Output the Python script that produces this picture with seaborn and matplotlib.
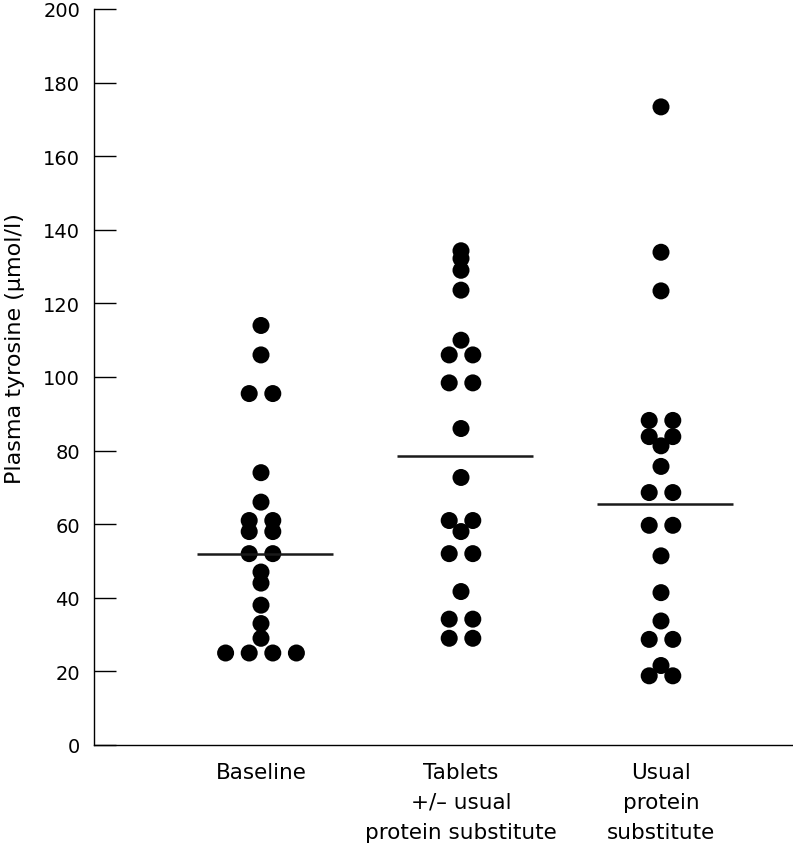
import numpy as np
import pandas as pd
import matplotlib
matplotlib.use("Agg")
import matplotlib.pyplot as plt
import seaborn as sns

categories = ["Baseline", "Tablets\n+/\u2013 usual\nprotein substitute", "Usual\nprotein\nsubstitute"]

baseline = [114, 106, 95.5, 95.5, 74, 66, 61, 61, 58, 58, 52, 52, 47, 44, 38, 33, 29, 25, 25, 25, 25]
tablets = [134.3, 132.2, 129, 123.6, 110, 106, 106, 98.4, 98.4, 86, 72.7, 61, 61, 58, 52, 52,
           41.7, 34.2, 34.2, 29, 29]
usual = [173.4, 133.9, 123.4, 88.2, 88.2, 83.8, 83.8, 81.3, 75.7, 68.6, 68.6, 59.7, 59.7, 51.4,
         41.4, 33.7, 28.7, 28.7, 21.6, 18.8, 18.8]
line_values = [52, 78.5, 65.5]

yticks = [0, 20, 40, 60, 80, 100, 120, 140, 160, 180, 200]

groups = [baseline, tablets, usual]

# spread identical values side by side
STEP = 0.118
rows = []
for gi, vals in enumerate(groups):
    uniq = {}
    for v in vals:
        uniq.setdefault(v, 0)
        uniq[v] += 1
    for v, n in uniq.items():
        offs = (np.arange(n) - (n - 1) / 2) * STEP
        for o in offs:
            rows.append({"x": gi + o, "y": v})
df = pd.DataFrame(rows)

sns.set_theme(style="white")
plt.rcParams["font.family"] = ["DejaVu Sans"]
plt.rcParams["text.color"] = "black"
plt.rcParams["axes.labelcolor"] = "black"
plt.rcParams["xtick.color"] = "black"
plt.rcParams["ytick.color"] = "black"

fig = plt.figure(figsize=(7.93, 8.53), dpi=100)
ax = fig.add_axes([94 / 793, 1 - 746 / 853, 1 - 94 / 793, (746 - 10) / 853])

sns.scatterplot(data=df, x="x", y="y", ax=ax, color="black", s=150, edgecolor="none",
                linewidth=0, legend=False)

for i, m in enumerate(line_values):
    ax.plot([i + 0.02 - 0.34, i + 0.02 + 0.34], [m, m], color="#1a1a1a", lw=1.8,
            solid_capstyle="butt")

ax.set_xlim(-0.835, 2.66)
ax.set_ylim(0, 200)
ax.set_yticks(yticks)
ax.set_yticklabels([str(t) for t in yticks], fontsize=14)
ax.set_xticks(range(3))
ax.set_xticklabels(categories, fontsize=15.5, linespacing=1.63, va="top")
ax.tick_params(axis="x", length=0, pad=12)
ax.tick_params(axis="y", direction="in", length=16, width=1, color="black", pad=10, left=True)
ax.set_xlabel("")
ax.set_ylabel("Plasma tyrosine (\u03bcmol/l)", fontsize=16)
ax.yaxis.set_label_coords(-0.098, 0.54)

for s in ["top", "right"]:
    ax.spines[s].set_visible(False)
for s in ["left", "bottom"]:
    ax.spines[s].set_color("black")
    ax.spines[s].set_linewidth(1)

fig.savefig("out.png", dpi=100)
